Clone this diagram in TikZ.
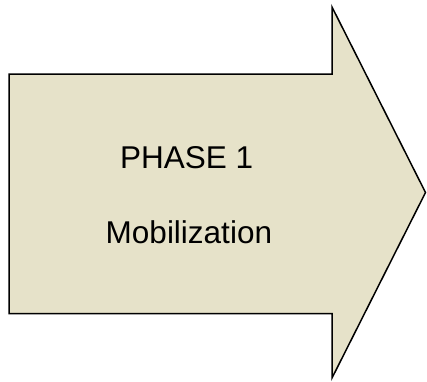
\documentclass[tikz,border=0pt]{standalone}
\usepackage{fontspec}
\setmainfont{Liberation Sans}
\usepackage{xcolor}
\definecolor{phasetan}{RGB}{230,226,201}

\begin{document}
\begin{tikzpicture}[x=1pt, y=-1pt,
    phasearrow/.style={draw=black, line width=1.5pt, fill=phasetan, line join=miter},
    phasetext/.style={anchor=base, inner sep=0pt, font=\fontsize{31.5}{37}\selectfont}]
  % Page size (pixels of the reference, y pointing down)
  \useasboundingbox (0, 0) rectangle (427, 381);

  % Block arrow: body on the left, head to the right
  \draw[phasearrow] (9, 74) -- (332, 74) -- (332, 7) -- (425.5, 192.5)
    -- (332, 378) -- (332, 313.5) -- (9, 313.5) -- cycle;

  % Phase label
  \node[phasetext] (phase) at (186.7, 168.3) {PHASE 1};
  \node[phasetext] (mobil) at (188.9, 243.3) {Mobilization};
\end{tikzpicture}
\end{document}
